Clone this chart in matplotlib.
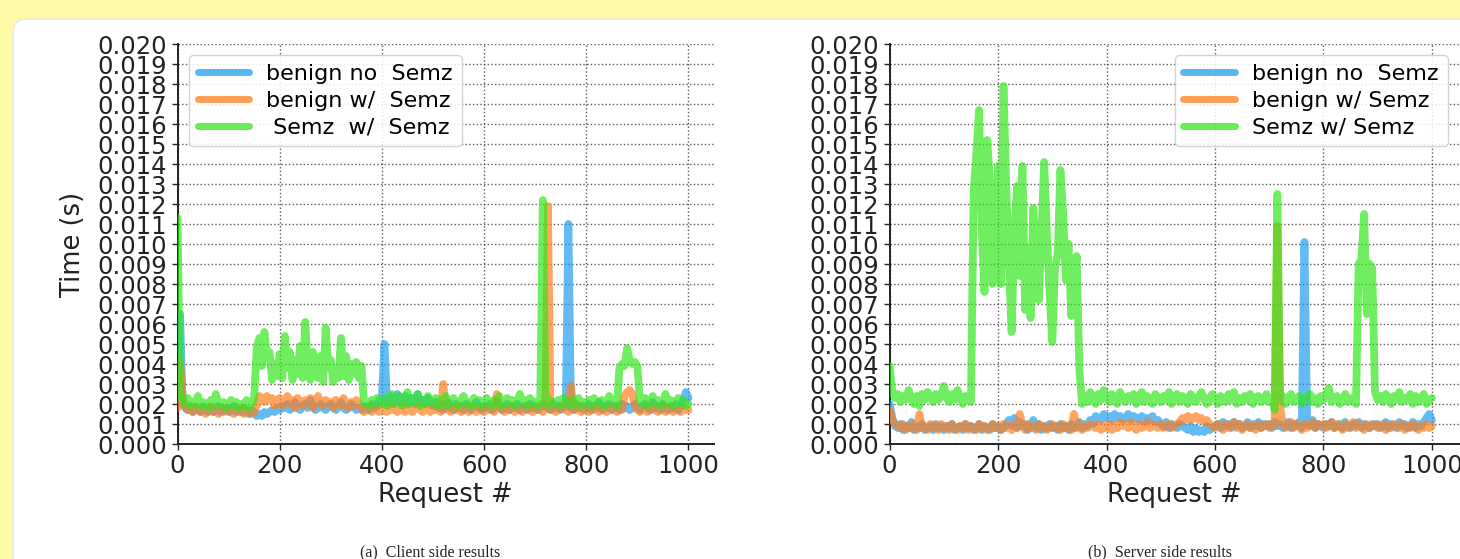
import numpy as np
import matplotlib
matplotlib.use("Agg")
import matplotlib.pyplot as plt
from matplotlib.patches import FancyBboxPatch
from matplotlib.transforms import IdentityTransform

# ---------------- data (milliseconds, one reading every 5 requests) ----------------
step = 5

client_benign_no = [
    2.2, 6.5, 2.0, 1.8, 1.7, 1.9, 1.6, 1.8, 1.7, 1.6, 1.9, 1.7, 1.6, 1.8, 1.6, 1.7, 1.9, 1.6, 1.7, 1.8,
    1.6, 1.7, 1.9, 1.6, 1.7, 1.6, 1.8, 1.6, 1.5, 1.7, 1.6, 1.4, 1.5, 1.4, 1.6, 1.5, 1.6, 1.7, 1.6, 1.8,
    1.7, 1.9, 1.8, 2.0, 1.7, 1.9, 2.1, 1.8, 1.7, 1.9, 2.0, 1.8, 2.2, 1.9, 1.7, 1.8, 2.0, 1.8, 1.7, 1.9,
    2.0, 1.8, 1.7, 1.9, 2.1, 1.8, 1.7, 1.8, 2.0, 1.9, 1.7, 1.8, 1.7, 1.9, 1.8, 1.7, 2.0, 1.8, 1.9, 2.2,
    2.3, 5.0, 2.1, 2.4, 2.0, 2.3, 2.5, 2.1, 2.2, 2.4, 2.0, 2.3, 2.2, 2.0, 2.5, 2.1, 2.2, 2.0, 2.3, 2.1,
    1.9, 2.1, 1.8, 2.0, 1.7, 1.9, 2.1, 1.8, 1.7, 2.0, 1.8, 1.9, 1.7, 2.0, 1.8, 1.7, 1.9, 2.1, 1.8, 1.7,
    1.9, 1.8, 2.0, 1.7, 1.8, 2.1, 1.9, 1.7, 1.8, 2.0, 1.7, 1.9, 1.8, 2.0, 1.7, 1.8, 1.9, 1.7, 2.0, 1.8,
    1.9, 1.7, 1.8, 2.0, 1.9, 1.8, 1.7, 2.0, 1.8, 1.9, 1.7, 1.8, 1.9, 11.0, 1.8, 1.7, 2.0, 1.8, 1.9, 1.7,
    1.8, 2.0, 1.7, 1.9, 1.8, 2.1, 1.7, 1.9, 1.8, 2.0, 1.7, 1.8, 1.9, 1.7, 2.0, 1.8, 1.9, 1.7, 1.8, 2.0,
    1.8, 1.7, 1.9, 2.0, 1.8, 1.7, 2.1, 1.8, 1.9, 1.7, 2.0, 1.8, 1.7, 1.9, 1.8, 2.0, 1.7, 1.9, 2.2, 2.6, 2.3,
]

client_benign_w = [
    1.8, 4.1, 2.4, 1.9, 1.7, 1.8, 1.6, 1.9, 1.7, 1.6, 1.8, 1.5, 1.7, 1.9, 1.6, 1.7, 1.5, 1.8, 1.6, 1.7,
    1.8, 1.6, 1.5, 1.7, 1.6, 1.8, 1.5, 1.6, 1.7, 1.5, 1.6, 1.9, 2.4, 2.3, 2.1, 2.4, 2.2, 2.3, 1.9, 2.2,
    2.3, 1.9, 2.1, 2.4, 2.0, 2.2, 1.8, 2.3, 2.1, 1.9, 2.2, 2.0, 2.3, 1.8, 2.1, 2.4, 2.0, 1.9, 2.2, 2.0,
    2.1, 1.8, 2.2, 2.0, 1.9, 2.3, 2.0, 1.8, 2.1, 1.9, 2.2, 2.0, 1.8, 1.6, 1.7, 1.9, 1.6, 1.8, 1.7, 1.6,
    1.8, 1.7, 1.6, 1.9, 1.7, 1.8, 1.6, 1.7, 1.9, 1.6, 1.8, 1.7, 1.6, 1.8, 1.9, 1.7, 1.6, 1.8, 1.7, 1.6,
    1.8, 1.7, 1.9, 1.6, 3.0, 1.8, 1.7, 1.6, 1.8, 1.7, 1.9, 1.6, 1.7, 1.8, 1.6, 1.9, 1.7, 1.6, 1.8, 1.7,
    1.6, 1.8, 1.7, 1.9, 1.6, 2.5, 1.8, 1.7, 1.6, 1.8, 1.7, 1.9, 1.6, 1.8, 1.7, 1.6, 1.8, 1.9, 1.7, 1.6,
    1.8, 1.7, 1.9, 1.6, 1.8, 11.9, 1.7, 1.8, 1.6, 1.7, 1.9, 1.8, 1.7, 1.6, 2.9, 1.8, 1.7, 1.9, 1.6, 1.8,
    1.7, 1.6, 1.8, 1.7, 1.9, 1.6, 1.8, 1.7, 1.6, 1.8, 1.7, 1.9, 1.6, 1.8, 1.7, 2.4, 2.6, 2.7, 2.5, 1.9,
    1.7, 1.6, 1.8, 1.7, 1.6, 1.9, 1.7, 1.8, 1.6, 1.7, 1.9, 1.6, 1.8, 1.7, 1.6, 1.8, 1.7, 1.6, 1.8, 1.7, 1.7,
]

client_semz_w = [
    11.3, 2.6, 2.2, 2.0, 2.3, 1.9, 2.1, 2.0, 2.4, 1.9, 2.1, 2.0, 1.8, 2.2, 1.9, 2.5, 2.0, 1.9, 2.1, 1.8,
    2.0, 2.2, 1.9, 2.1, 1.8, 2.0, 1.9, 2.2, 1.8, 2.0, 2.3, 4.8, 5.3, 3.9, 5.6, 4.3, 4.6, 3.2, 4.0, 3.4,
    4.5, 3.3, 5.4, 3.8, 4.6, 3.2, 4.2, 3.5, 4.9, 3.3, 6.1, 4.0, 3.2, 4.6, 3.6, 3.3, 4.4, 3.1, 5.8, 3.8,
    4.2, 3.1, 3.6, 3.3, 5.3, 3.4, 4.4, 3.2, 4.0, 3.5, 4.1, 3.3, 3.9, 2.1, 2.0, 1.9, 2.2, 2.0, 2.3, 2.1,
    2.0, 2.3, 1.9, 2.2, 2.5, 2.0, 2.1, 2.4, 1.9, 2.2, 2.6, 2.0, 2.3, 2.1, 2.5, 1.9, 2.2, 2.0, 2.4, 2.1,
    2.0, 2.3, 1.9, 2.2, 2.0, 2.4, 1.9, 2.1, 2.3, 2.0, 1.9, 2.2, 2.4, 2.0, 2.1, 1.9, 2.3, 2.0, 2.2, 1.9,
    2.1, 2.3, 2.0, 1.9, 2.2, 2.0, 2.4, 1.9, 2.1, 2.3, 2.0, 2.2, 1.9, 2.1, 2.5, 2.0, 2.2, 1.9, 2.3, 2.0,
    2.1, 1.9, 2.2, 12.2, 2.0, 2.3, 1.9, 2.1, 2.0, 2.2, 1.9, 2.3, 2.0, 2.1, 1.9, 2.2, 2.0, 2.3, 1.9, 2.1,
    2.0, 2.2, 1.9, 2.3, 2.1, 2.0, 2.2, 1.9, 2.1, 2.4, 2.0, 2.2, 1.9, 3.8, 4.0, 3.9, 4.8, 4.2, 4.0, 4.1,
    3.9, 2.2, 2.0, 2.3, 1.9, 2.1, 2.4, 2.0, 2.2, 1.9, 2.1, 2.5, 2.0, 2.2, 1.9, 2.1, 2.3, 2.0, 2.2, 1.9, 2.0,
]

server_benign_no = [
    2.0, 1.3, 0.9, 0.8, 1.0, 0.7, 0.9, 0.8, 1.1, 0.7, 0.9, 0.8, 1.0, 0.7, 0.8, 0.9, 0.7, 1.0, 0.8, 0.9,
    0.7, 0.9, 0.8, 1.0, 0.7, 0.8, 0.9, 0.7, 1.0, 0.8, 0.9, 0.7, 0.8, 1.0, 0.7, 0.9, 0.8, 0.7, 1.0, 0.8,
    0.9, 0.7, 0.8, 1.0, 1.2, 0.9, 1.3, 0.8, 1.1, 0.9, 1.0, 0.7, 0.9, 1.2, 0.8, 1.0, 0.7, 0.9, 0.8, 1.0,
    0.8, 0.9, 0.7, 1.0, 0.8, 0.9, 0.7, 1.0, 0.8, 0.9, 1.1, 0.8, 1.0, 0.9, 1.2, 1.0, 1.4, 1.3, 1.2, 1.5,
    1.3, 1.4, 1.2, 1.5, 1.3, 1.4, 1.2, 1.3, 1.5, 1.2, 1.4, 1.3, 1.2, 1.4, 1.1, 1.3, 1.2, 1.4, 1.1, 1.2,
    1.0, 0.9, 1.1, 0.8, 1.0, 0.9, 0.8, 1.0, 0.9, 0.8, 0.7, 0.9, 0.6, 0.8, 0.6, 0.7, 0.6, 0.9, 0.7, 0.8,
    0.9, 1.0, 0.8, 1.1, 0.9, 1.0, 0.8, 1.1, 0.9, 1.0, 0.8, 0.9, 1.1, 0.8, 1.0, 0.9, 1.1, 0.8, 1.0, 0.9,
    1.0, 0.8, 1.1, 0.9, 1.0, 0.8, 0.9, 1.1, 0.8, 1.0, 0.9, 1.1, 0.8, 10.1, 1.0, 0.9, 1.2, 0.8, 1.0, 0.9,
    0.8, 1.0, 0.9, 1.1, 0.8, 0.9, 1.0, 0.8, 1.1, 0.9, 0.8, 1.0, 0.9, 1.1, 0.8, 1.0, 0.9, 0.8, 1.0, 0.9,
    1.0, 0.8, 0.9, 1.1, 0.8, 1.0, 0.9, 0.8, 1.1, 0.9, 1.0, 0.8, 0.9, 1.1, 0.8, 1.0, 0.9, 1.1, 1.3, 1.5, 1.2,
]

server_benign_w = [
    1.7, 1.2, 1.0, 0.9, 0.8, 1.0, 0.7, 0.9, 0.8, 1.0, 0.7, 1.5, 0.8, 0.9, 0.7, 1.0, 0.8, 0.9, 0.7, 1.0,
    0.8, 0.9, 0.7, 1.0, 0.8, 0.7, 0.9, 0.8, 1.0, 0.7, 0.9, 0.8, 0.7, 1.0, 0.8, 0.9, 0.7, 0.8, 1.0, 0.8,
    0.9, 0.7, 1.0, 0.8, 0.9, 0.7, 1.0, 0.8, 1.5, 0.9, 0.7, 1.0, 0.8, 0.9, 0.7, 1.0, 0.8, 0.9, 0.7, 0.8,
    1.0, 0.8, 0.9, 0.7, 1.0, 0.8, 0.9, 0.7, 1.5, 0.8, 1.0, 0.7, 0.9, 0.8, 1.0, 0.9, 0.8, 1.0, 0.7, 0.9,
    0.8, 1.0, 0.7, 0.9, 0.8, 1.1, 0.9, 1.0, 0.8, 1.1, 0.9, 0.7, 1.0, 0.8, 0.9, 1.1, 0.8, 1.0, 0.9, 0.8,
    1.0, 0.8, 0.9, 1.0, 0.8, 0.9, 1.0, 1.1, 1.3, 1.2, 1.4, 1.2, 1.3, 1.4, 1.2, 1.3, 1.1, 1.2, 1.0, 0.9,
    0.8, 1.0, 0.9, 0.7, 1.0, 0.8, 0.9, 1.1, 0.8, 1.0, 0.7, 0.9, 1.0, 0.8, 0.9, 0.7, 1.0, 0.8, 0.9, 1.0,
    0.8, 1.0, 0.9, 10.9, 1.9, 1.0, 0.8, 0.9, 1.1, 0.8, 1.0, 0.9, 0.7, 1.0, 0.8, 0.9, 1.1, 0.8, 1.0, 0.9,
    1.0, 0.8, 0.9, 1.1, 0.8, 1.0, 0.9, 0.7, 1.0, 0.8, 0.9, 1.1, 0.8, 1.0, 0.9, 0.7, 1.0, 0.8, 0.9, 1.0,
    0.8, 0.9, 1.0, 0.7, 0.9, 0.8, 1.0, 0.9, 0.8, 1.0, 0.7, 0.9, 0.8, 1.0, 0.9, 0.7, 0.9, 0.8, 1.0, 0.8, 0.9,
]

server_semz_w = [
    3.9, 2.6, 2.3, 2.5, 2.1, 2.4, 2.2, 2.7, 2.3, 2.0, 2.4, 1.9, 2.5, 2.2, 2.6, 2.3, 2.1, 2.5, 2.2, 2.4,
    2.9, 2.3, 2.1, 2.5, 2.2, 2.7, 2.3, 2.0, 2.4, 2.2, 2.1, 12.6, 14.5, 16.7, 10.7, 7.6, 15.2, 13.2, 8.0, 9.0,
    13.9, 8.0, 17.9, 12.9, 9.0, 5.6, 10.5, 12.9, 8.4, 13.9, 6.7, 9.8, 6.3, 11.8, 9.1, 7.2, 10.5, 14.1, 10.5, 7.5,
    5.1, 8.8, 9.5, 13.7, 11.5, 8.2, 10.0, 6.4, 7.8, 9.4, 3.7, 2.0, 2.4, 2.1, 2.6, 2.3, 2.0, 2.5, 2.2, 2.7,
    2.3, 2.1, 2.5, 2.2, 2.0, 2.6, 2.3, 2.1, 2.4, 2.2, 2.5, 2.0, 2.3, 2.6, 2.1, 2.4, 2.2, 2.0, 2.5, 2.3,
    2.1, 2.4, 2.2, 2.6, 2.0, 2.3, 2.5, 2.1, 2.4, 2.2, 2.0, 2.5, 2.3, 2.1, 2.4, 2.6, 2.2, 2.0, 2.3, 2.5,
    2.2, 2.0, 2.4, 2.3, 2.1, 2.5, 2.2, 2.6, 2.0, 2.3, 2.1, 2.4, 2.2, 2.5, 2.0, 2.3, 2.4, 2.1, 2.2, 2.5,
    2.1, 2.3, 1.7, 12.5, 2.2, 2.4, 2.0, 2.3, 2.5, 2.1, 2.2, 2.4, 2.0, 2.3, 2.2, 2.5, 2.1, 2.3, 2.0, 2.4,
    2.2, 2.5, 2.8, 2.1, 2.3, 2.4, 2.0, 2.2, 2.5, 2.1, 2.3, 2.2, 2.0, 9.0, 9.2, 11.5, 6.5, 9.0, 8.8, 2.6,
    2.2, 2.4, 2.1, 2.5, 2.3, 2.0, 2.4, 2.2, 2.6, 2.1, 2.3, 2.2, 2.5, 2.0, 2.4, 2.1, 2.3, 2.5, 2.0, 2.2, 2.3,
]

labels_client = ["benign no  Semz", "benign w/  Semz", " Semz  w/  Semz"]
labels_server = ["benign no  Semz", "benign w/ Semz", "Semz w/ Semz"]
captions = ["(a)  Client side results", "(b)  Server side results"]
y_ticks = [i / 1000 for i in range(0, 21)]
x_ticks = [0, 200, 400, 600, 800, 1000]

# ---------------- styling ----------------
colors = ["#1f9ff0", "#ff7f1e", "#33e61c"]
W, H, DPI = 1460, 559, 100
fig = plt.figure(figsize=(W / DPI, H / DPI), dpi=DPI)
fig.patch.set_facecolor("#fffaa6")

# white card with rounded corner (drawn behind the axes)
card = FancyBboxPatch((13, -40), W + 40, H + 40 - 19,
                      boxstyle="round,pad=0,rounding_size=14",
                      transform=IdentityTransform(), facecolor="white",
                      edgecolor="#e8e8e0", linewidth=1.0, zorder=-10)
fig.patches.append(card)


def draw(ax, series, labels, loc, ylabel):
    for vals, c, lab in zip(series, colors, labels):
        v = np.asarray(vals) / 1000.0
        x = np.arange(len(v)) * step
        ax.plot(x, v, color=c, alpha=0.7, lw=5.6, label=lab,
                solid_capstyle="round", solid_joinstyle="round", zorder=3)
    ax.set_xlim(0, 1050)
    ax.set_ylim(0, 0.020)
    ax.set_yticks(y_ticks)
    ax.set_yticklabels([f"{t:.3f}" for t in y_ticks])
    ax.set_xticks(x_ticks)
    ax.tick_params(axis="both", labelsize=17.5, length=4, width=1, colors="#222222")
    ax.grid(True, linestyle=":", color="#333333", linewidth=1.0, alpha=0.8)
    ax.set_axisbelow(True)
    for s in ("top", "right"):
        ax.spines[s].set_visible(False)
    for s in ("left", "bottom"):
        ax.spines[s].set_linewidth(1.4)
        ax.spines[s].set_color("#222222")
    ax.set_facecolor("none")
    ax.set_xlabel("Request #", fontsize=18.5, color="#222222")
    ax.xaxis.set_label_coords(0.5, -0.095)
    if ylabel:
        ax.set_ylabel(ylabel, fontsize=18.5, color="#222222")
        ax.yaxis.set_label_coords(-0.17, 0.5)
    leg = ax.legend(loc=loc, fontsize=16, handlelength=2.3, labelspacing=0.3,
                    framealpha=0.85, edgecolor="#cccccc", fancybox=True,
                    borderaxespad=0.5)
    for line in leg.get_lines():
        line.set_linewidth(5.0)
        line.set_alpha(0.75)
    return ax


axL = fig.add_axes([177.5 / W, 1 - 444 / H, (714 - 177.5) / W, 400 / H])
draw(axL, [client_benign_no, client_benign_w, client_semz_w], labels_client, "upper left", "Time (s)")

axR = fig.add_axes([889.6 / W, 1 - 444 / H, (1459 - 889.6) / W, 400 / H])
draw(axR, [server_benign_no, server_benign_w, server_semz_w], labels_server, "upper right", None)

fig.text(430 / W, 1 - 544 / H, captions[0], family="Liberation Serif", fontsize=11.5,
         ha="center", va="top", color="#222222")
fig.text(1160 / W, 1 - 544 / H, captions[1], family="Liberation Serif", fontsize=11.5,
         ha="center", va="top", color="#222222")

fig.savefig("out.png", dpi=DPI, facecolor=fig.get_facecolor())
